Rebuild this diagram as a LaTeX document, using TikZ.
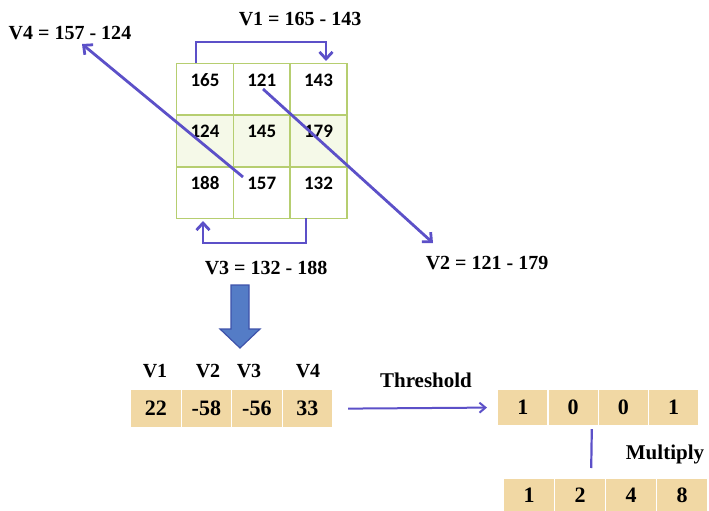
\documentclass[tikz,border=0pt]{standalone}
\usepackage{fontspec}
\setmainfont{Liberation Serif}
\newfontfamily\cellfont{Carlito}
\usetikzlibrary{arrows.meta,calc}
\definecolor{arrowc}{RGB}{92,80,200}
\definecolor{gridc}{RGB}{182,206,112}
\definecolor{midfill}{RGB}{245,249,232}
\definecolor{bigarrow}{RGB}{84,124,198}
\definecolor{bigarrowd}{RGB}{62,82,170}
\definecolor{papyrus}{RGB}{241,216,164}
\begin{document}
\begin{tikzpicture}[x=1pt,y=-1pt,
  cell/.style={draw=gridc,line width=1.4pt,minimum width=56.7pt,anchor=north west,
    inner xsep=0pt,inner ysep=9.5pt,text height=13pt,text depth=19.2pt,
    font=\cellfont\bfseries\fontsize{19}{19}\selectfont},
  midcell/.style={cell,fill=midfill},
  box/.style={fill=papyrus,draw=white,line width=1.2pt,anchor=north west,inner sep=0pt,
    font=\bfseries\fontsize{22}{22}\selectfont},
  lab/.style={font=\bfseries\fontsize{20}{20}\selectfont,inner sep=0pt},
  conn/.style={draw=arrowc,line width=2.8pt},
  tip/.style={-{Straight Barb[length=7pt,width=13pt,line width=2.8pt]}}
]
\useasboundingbox (0,0) rectangle (709,511);
% grid
\node[cell] (c11) at (176,63) {165};
\node[cell] (c12) at (232.7,63) {121};
\node[cell] (c13) at (289.4,63) {143};
\node[midcell] (c21) at (176,114.7) {124};
\node[midcell] (c22) at (232.7,114.7) {145};
\node[midcell] (c23) at (289.4,114.7) {179};
\node[cell] (c31) at (176,166.4) {188};
\node[cell] (c32) at (232.7,166.4) {157};
\node[cell] (c33) at (289.4,166.4) {132};
% labels
\node[lab] (l1) at (300,19) {V1 = 165 - 143};
\node[lab] (l4) at (70,33) {V4 = 157 - 124};
\node[lab] (l2) at (487,263) {V2 = 121 - 179};
\node[lab] (l3) at (266,268) {V3 = 132 - 188};
% arrow coordinates
\coordinate (v1s) at (196,63);
\coordinate (v1e) at (326,61);
\coordinate (v3s) at (306,218);
\coordinate (v3e) at (203,221);
\coordinate (v2s) at (263,89);
\coordinate (v2e) at (433,243);
\coordinate (v4s) at (243,177);
\coordinate (v4e) at (82,44);
\draw[conn,tip] (v1s) -- (196,42) -- (326,42) -- (v1e);
\draw[conn,tip] (v3s) -- (306,243) -- (203,243) -- (v3e);
\draw[conn,tip] (v2s) -- (v2e);
\draw[conn,tip] (v4s) -- (v4e);
% big arrow
\draw[fill=bigarrow,draw=bigarrowd,line width=1.2pt,line join=miter]
  (231,285) -- (249,285) -- (249,329) -- (260,329) -- (240,348) -- (220,329) -- (231,329) -- cycle;
% first row
\node[lab] (h1) at (155,371) {V1};
\node[lab] (h2) at (208,371) {V2};
\node[lab] (h3) at (249,371) {V3};
\node[lab] (h4) at (308,371) {V4};
\node[box,minimum width=50.5pt,minimum height=38pt] (a1) at (130,389) {22};
\node[box,minimum width=50.5pt,minimum height=38pt] (a2) at (180.5,389) {-58};
\node[box,minimum width=50.5pt,minimum height=38pt] (a3) at (231,389) {-56};
\node[box,minimum width=50.5pt,minimum height=38pt] (a4) at (281.5,389) {33};
% second row
\node[box,minimum width=50.3pt,minimum height=36pt] (b1) at (497,389) {1};
\node[box,minimum width=50.3pt,minimum height=36pt] (b2) at (547.3,389) {0};
\node[box,minimum width=50.3pt,minimum height=36pt] (b3) at (597.6,389) {0};
\node[box,minimum width=50.3pt,minimum height=36pt] (b4) at (647.9,389) {1};
% third row
\node[box,minimum width=51pt,minimum height=34pt] (d1) at (503,478) {1};
\node[box,minimum width=51pt,minimum height=34pt] (d2) at (554,478) {2};
\node[box,minimum width=51pt,minimum height=34pt] (d3) at (605,478) {4};
\node[box,minimum width=51pt,minimum height=34pt] (d4) at (656,478) {8};
% threshold
\node[lab,font=\bfseries\fontsize{21}{21}\selectfont] (th) at (426,380) {Threshold};
\draw[draw=arrowc,line width=2pt,-{Straight Barb[length=6pt,width=10pt,line width=2pt]}]
  ($(a4.east)+(15,0)$) -- ($(b1.west)+(-10,0)$);
% multiply
\node[lab,font=\bfseries\fontsize{21}{21}\selectfont] (mu) at (665,454) {Multiply};
\draw[draw=arrowc,line width=2.2pt] ($(b2.south east)+(-7,3)$) -- ($(d2.north east)+(-15,-10)$);
\end{tikzpicture}
\end{document}
